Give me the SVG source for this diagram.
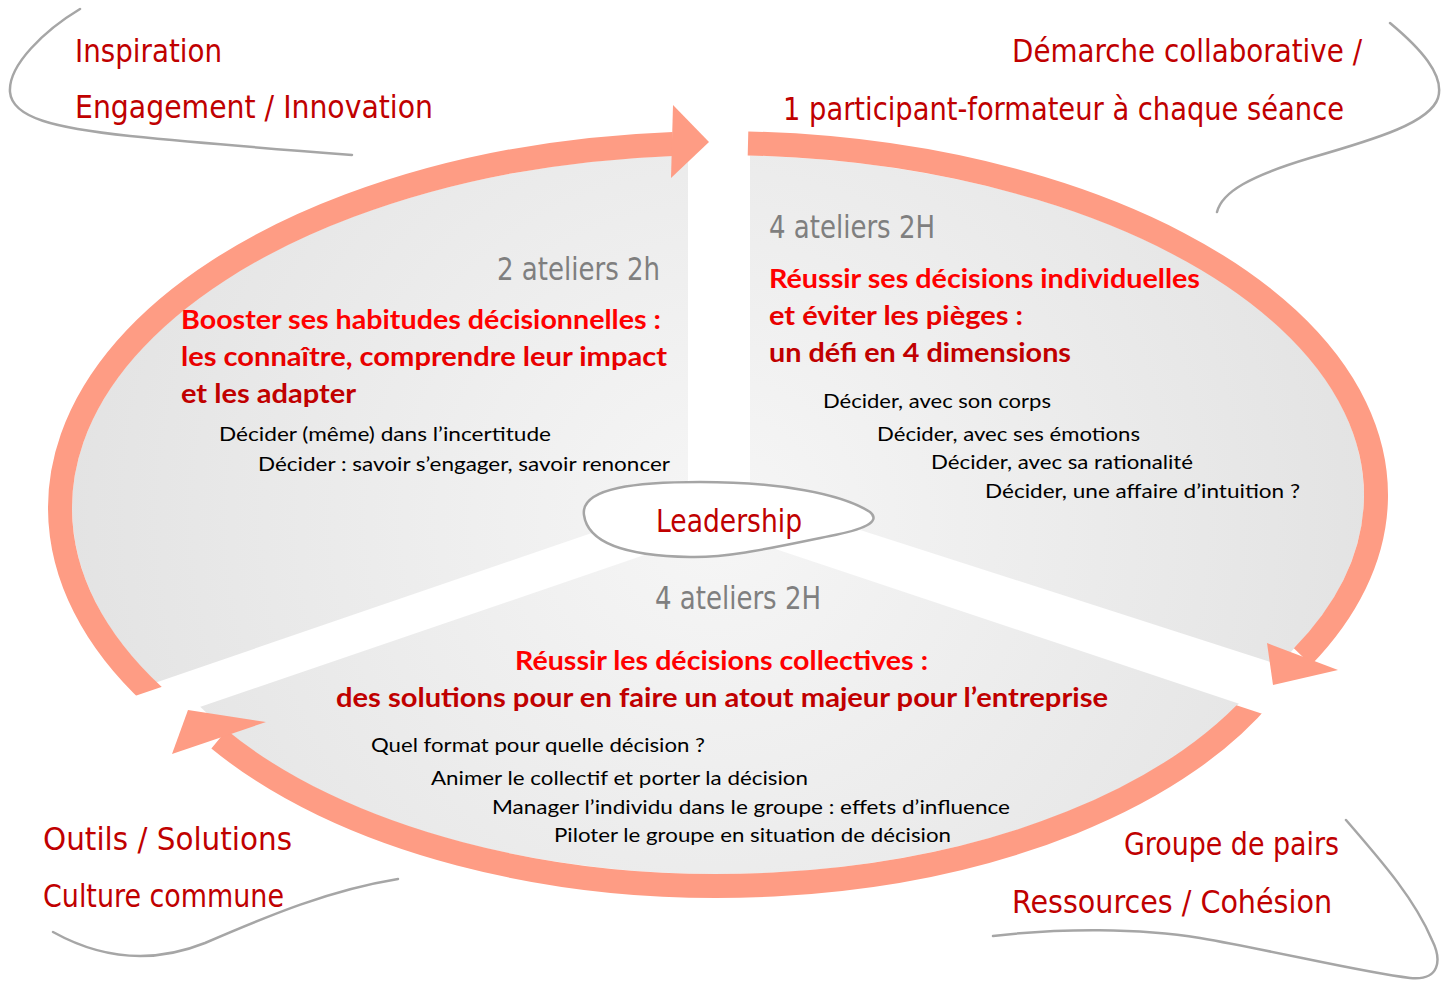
<svg xmlns="http://www.w3.org/2000/svg" width="1448" height="981" viewBox="0 0 1448 981">
<style>
.hand{font-family:"Liberation Sans Narrow","DejaVu Sans Condensed","Liberation Sans",sans-serif;fill:#c00000;font-size:32px}
.gray{fill:#7f7f7f}
.title{font-family:Lato,"Open Sans","Liberation Sans",sans-serif;font-weight:bold;font-size:26px}
.body{font-family:Lato,"Open Sans","Liberation Sans",sans-serif;font-size:20px;fill:#000}
.r1{fill:#ff0000}.r2{fill:#e80000}.r3{fill:#c00000}
.band{fill:none;stroke:#fe9c84;stroke-width:24}
.head{fill:#fe9c84}
.swoosh{fill:none;stroke:#a6a6a6;stroke-width:2.5;stroke-linecap:round}
</style>
<defs>
<radialGradient id="gr" gradientUnits="userSpaceOnUse" cx="718" cy="520" r="660">
<stop offset="0" stop-color="#f6f6f6"/>
<stop offset="1" stop-color="#e3e3e3"/>
</radialGradient>
<clipPath id="cL"><polygon points="0,0 688,0 688,500 0,736"/></clipPath>
<clipPath id="cR"><polygon points="750,0 1448,0 1448,719 750,494.6"/></clipPath>
<clipPath id="cB"><polygon points="0,775.4 718,529.8 1448,773.4 1448,981 0,981"/></clipPath>
<clipPath id="cA1"><polygon points="0,0 1448,0 1448,249 0,742"/></clipPath>
<clipPath id="cA3"><polygon points="0,981 0,297 1448,775 1448,981"/></clipPath>
</defs>

<g id="sector-left"><ellipse cx="718" cy="508" rx="646" ry="353" fill="url(#gr)" clip-path="url(#cL)"/></g>
<g id="sector-right"><ellipse cx="718" cy="495" rx="646" ry="340" fill="url(#gr)" clip-path="url(#cR)"/></g>
<g id="sector-bottom"><ellipse cx="718" cy="556" rx="588" ry="318" fill="url(#gr)" clip-path="url(#cB)"/></g>

<g id="connectors">
<path class="band" clip-path="url(#cA1)" d="M 175,714.2 A 658 365 0 0 1 673,143.9"/>
<polygon class="head" points="673,105 709,142 671,178"/>
<path class="band" d="M 748,143.4 A 658 352 0 0 1 1302.5,656.7"/>
<polygon class="head" points="1267,643 1338,670 1273,685"/>
<path class="band" clip-path="url(#cA3)" d="M 1270,685.3 A 600 330 0 0 1 219,739.2"/>
<polygon class="head" points="266,722 172,754 188,710"/>
</g>

<g id="callout-tl">
<path class="swoosh" d="M 80,9 C 45,30 8,65 10,92 C 12,118 55,128 130,136 C 210,144 300,151 352,155"/>
<text class="hand" x="75" y="62" textLength="147" lengthAdjust="spacingAndGlyphs">Inspiration</text>
<text class="hand" x="75" y="118" textLength="358" lengthAdjust="spacingAndGlyphs">Engagement / Innovation</text>
</g>

<g id="callout-tr">
<path class="swoosh" d="M 1390,23 C 1420,48 1445,75 1438,98 C 1430,122 1380,138 1310,158 C 1250,176 1222,192 1217,212"/>
<text class="hand" x="1012" y="62" textLength="350" lengthAdjust="spacingAndGlyphs">Démarche collaborative /</text>
<text class="hand" x="783" y="120" textLength="561" lengthAdjust="spacingAndGlyphs">1 participant-formateur à chaque séance</text>
</g>

<g id="callout-bl">
<path class="swoosh" d="M 398,879 C 330,890 270,915 205,943 C 150,965 100,958 53,932"/>
<text class="hand" x="43" y="850" textLength="249" lengthAdjust="spacingAndGlyphs">Outils / Solutions</text>
<text class="hand" x="43" y="907" textLength="241" lengthAdjust="spacingAndGlyphs">Culture commune</text>
</g>

<g id="callout-br">
<path class="swoosh" d="M 993,936 C 1060,928 1140,928 1200,938 C 1280,952 1360,972 1410,978 C 1440,981 1442,960 1432,940 C 1415,900 1385,865 1346,820"/>
<text class="hand" x="1124" y="855" textLength="215" lengthAdjust="spacingAndGlyphs">Groupe de pairs</text>
<text class="hand" x="1012" y="913" textLength="320" lengthAdjust="spacingAndGlyphs">Ressources / Cohésion</text>
</g>

<g id="node-left">
<text class="hand gray" x="497" y="280" textLength="163" lengthAdjust="spacingAndGlyphs">2 ateliers 2h</text>
<text class="title r1" x="181" y="329" textLength="480" lengthAdjust="spacingAndGlyphs">Booster ses habitudes décisionnelles :</text>
<text class="title r2" x="181" y="366" textLength="486" lengthAdjust="spacingAndGlyphs">les connaître, comprendre leur impact</text>
<text class="title r3" x="181" y="403" textLength="175" lengthAdjust="spacingAndGlyphs">et les adapter</text>
<text class="body" x="219" y="441" textLength="332" lengthAdjust="spacingAndGlyphs">Décider (même) dans l’incertitude</text>
<text class="body" x="258" y="471" textLength="412" lengthAdjust="spacingAndGlyphs">Décider : savoir s’engager, savoir renoncer</text>
</g>

<g id="node-right">
<text class="hand gray" x="769" y="238" textLength="166" lengthAdjust="spacingAndGlyphs">4 ateliers 2H</text>
<text class="title r1" x="769" y="288" textLength="431" lengthAdjust="spacingAndGlyphs">Réussir ses décisions individuelles</text>
<text class="title r2" x="769" y="325" textLength="254" lengthAdjust="spacingAndGlyphs">et éviter les pièges :</text>
<text class="title r3" x="769" y="362" textLength="302" lengthAdjust="spacingAndGlyphs">un défi en 4 dimensions</text>
<text class="body" x="823" y="408" textLength="228" lengthAdjust="spacingAndGlyphs">Décider, avec son corps</text>
<text class="body" x="877" y="441" textLength="263" lengthAdjust="spacingAndGlyphs">Décider, avec ses émotions</text>
<text class="body" x="931" y="469" textLength="262" lengthAdjust="spacingAndGlyphs">Décider, avec sa rationalité</text>
<text class="body" x="985" y="498" textLength="315" lengthAdjust="spacingAndGlyphs">Décider, une affaire d’intuition ?</text>
</g>

<g id="node-bottom">
<text class="hand gray" x="655" y="609" textLength="166" lengthAdjust="spacingAndGlyphs">4 ateliers 2H</text>
<text class="title r1" x="515" y="670" textLength="413" lengthAdjust="spacingAndGlyphs">Réussir les décisions collectives :</text>
<text class="title r3" x="336" y="707" textLength="772" lengthAdjust="spacingAndGlyphs">des solutions pour en faire un atout majeur pour l’entreprise</text>
<text class="body" x="371" y="752" textLength="334" lengthAdjust="spacingAndGlyphs">Quel format pour quelle décision ?</text>
<text class="body" x="431" y="785" textLength="377" lengthAdjust="spacingAndGlyphs">Animer le collectif et porter la décision</text>
<text class="body" x="492" y="814" textLength="518" lengthAdjust="spacingAndGlyphs">Manager l’individu dans le groupe : effets d’influence</text>
<text class="body" x="554" y="842" textLength="397" lengthAdjust="spacingAndGlyphs">Piloter le groupe en situation de décision</text>
</g>

<g id="node-leadership">
<path d="M 584,515 C 580,487 640,482 700,482 C 780,482 842,494 870,512 C 882,522 862,530 830,536 C 780,546 730,558 690,557 C 632,556 588,545 584,515 Z" fill="#ffffff" stroke="#a5a5a5" stroke-width="2.5"/>
<text class="hand" x="656" y="532" font-size="40" textLength="146" lengthAdjust="spacingAndGlyphs">Leadership</text>
</g>
</svg>
